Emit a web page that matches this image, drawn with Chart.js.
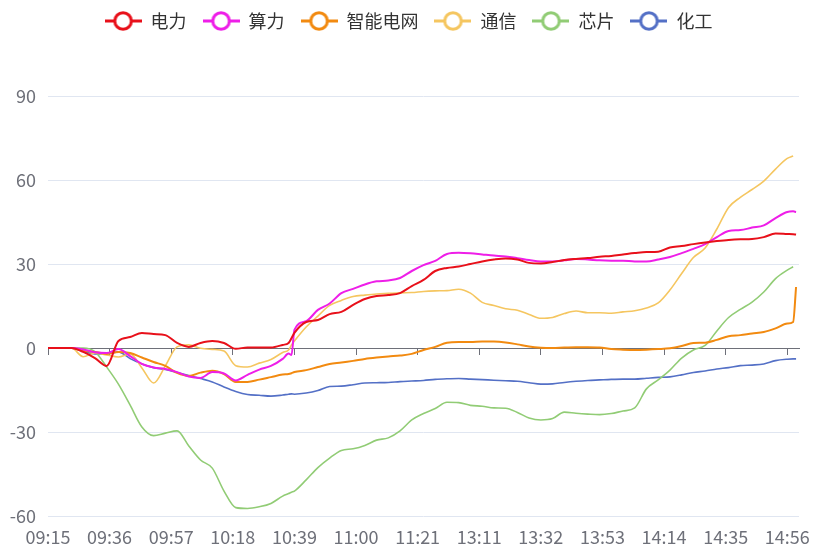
<!DOCTYPE html>
<html><head><meta charset="utf-8">
<script src="https://cdn.jsdelivr.net/npm/chart.js@4.4.1/dist/chart.umd.min.js"></script>
<style>html,body{margin:0;padding:0;background:#fff;}#wrap{width:821px;height:555px;}</style>
</head><body><div id="wrap"><canvas id="c" width="821" height="555"></canvas></div>
<script>
const tickLabels = ['09:15','09:36','09:57','10:18','10:39','11:00','11:21','13:11','13:32','13:53','14:14','14:35','14:56'];
const sampleTimes = ['09:15','09:19','09:23','09:27','09:31','09:35','09:39','09:43','09:47','09:51','09:55','09:59','10:03','10:07','10:11','10:15','10:19','10:23','10:27','10:31','10:35','10:37','10:38','10:39','10:43','10:47','10:51','10:55','10:59','11:03','11:07','11:11','11:15','11:19','11:23','11:27','13:00','13:04','13:08','13:12','13:16','13:20','13:24','13:28','13:32','13:36','13:40','13:44','13:48','13:52','13:56','14:00','14:04','14:08','14:12','14:16','14:20','14:24','14:28','14:32','14:36','14:40','14:44','14:48','14:52','14:56','14:58','14:59'];
const seriesNames = ['电力','算力','智能电网','通信','芯片','化工'];
const power = [0,0,0,-1.4,-3.6,-6.4,2.5,3.9,5.4,5,4.6,1.8,0.4,1.8,2.5,1.8,-0.3,0.2,0.2,0.2,1.1,1.8,3.5,5.4,9.3,10,12.1,12.9,15.4,17.5,18.6,18.9,19.6,22.1,24.3,27.5,28.6,29.1,30,30.9,31.6,32,31.6,30.4,30.2,30.7,31.4,31.8,32.1,32.6,32.9,33.4,33.9,34.3,34.4,35.9,36.4,37.1,37.7,38.2,38.6,38.8,38.9,39.6,40.9,40.7,40.6,40.5];
const computing = [0,0,0,-0.5,-1.5,-1.8,-0.4,-2.9,-5.7,-7,-7.5,-8.6,-10.2,-10.7,-8.6,-9.1,-11.6,-9.6,-7.7,-6.4,-3.9,-2,-2.5,6.5,9.6,13.6,15.9,19.6,21.1,22.7,23.8,24.1,25,27.5,29.6,31.1,33.6,34,33.8,33.4,33,32.7,32.1,31.4,30.9,30.9,31.3,31.8,31.6,31.3,31.2,31.2,30.9,30.9,31.6,32.5,33.9,35.4,37.1,39.6,41.8,42.1,43,43.8,46.4,48.6,48.8,48.6];
const smartGrid = [0,0,0,-1,-1.4,-2.1,-1.4,-1.8,-3.4,-5,-6.4,-8.9,-10,-8.8,-8.1,-9.3,-12.1,-12.1,-11.3,-10.4,-9.5,-9.3,-9,-8.6,-7.9,-6.8,-5.7,-5.2,-4.6,-3.9,-3.4,-3,-2.7,-2.1,-0.7,0.4,1.9,2.1,2.1,2.3,2.3,2,1.3,0.5,0.1,0,0.2,0.3,0.3,0.2,-0.4,-0.6,-0.7,-0.6,-0.4,-0.1,0.7,1.8,1.9,2.9,4.2,4.6,5.2,5.7,7,8.75,9.3,21.8];
const telecom = [0,0,0,-3.1,-1.8,-2.5,-3.2,-2.1,-7.1,-12.5,-6.4,0.4,1.1,-0.1,-0.5,-1.1,-6.3,-6.8,-5.4,-4.1,-1.6,-0.7,1.1,2.5,7.5,11.4,15.2,17,18.4,18.9,19.3,19.5,19.7,19.8,20.2,20.4,20.5,21,19.6,16.3,15.2,14,13.5,12,10.6,10.9,12.3,13.2,12.6,12.6,12.4,12.9,13.3,14.3,16.1,20.7,26.6,32.3,35.7,42.5,50.2,53.8,56.6,59.6,63.9,67.7,68.6,null];
const chips = [0,0,0,0,-1.3,-6.8,-12.9,-20.4,-28.2,-31.3,-30.4,-29.6,-35,-40,-42.9,-51.1,-57,-57.3,-56.7,-55.5,-52.9,-52,-51.5,-51.1,-47.1,-42.7,-39.3,-36.6,-36,-34.8,-32.9,-32.1,-29.6,-25.7,-23.4,-21.6,-19.4,-19.5,-20.5,-20.8,-21.4,-21.5,-23,-25,-25.7,-25.2,-22.9,-23.3,-23.6,-23.8,-23.4,-22.5,-21.4,-14.6,-11.4,-7.9,-3.6,-0.7,0.9,6.1,10.9,13.8,16.4,20,24.8,27.8,29,null];
const chemical = [0,0,0,-1.2,-2.1,-2.1,-1.4,-3.8,-5.7,-7,-7.7,-8.75,-9.8,-10.9,-12.1,-13.9,-15.5,-16.6,-16.9,-17.2,-16.8,-16.5,-16.4,-16.5,-16.1,-15.2,-13.75,-13.6,-13.1,-12.5,-12.4,-12.3,-12,-11.8,-11.6,-11.2,-11,-10.9,-11.1,-11.3,-11.5,-11.7,-11.9,-12.4,-12.9,-12.8,-12.3,-11.9,-11.6,-11.4,-11.2,-11.1,-11.1,-10.8,-10.5,-10.3,-9.6,-8.75,-8.2,-7.5,-7,-6.3,-6.1,-5.7,-4.5,-4,-3.9,-3.9];
const seriesValues = [power, computing, smartGrid, telecom, chips, chemical];
const seriesColors = ['#e8101a','#ee1ee8','#f28a10','#f5c660','#91cc75','#5470c6'];
const seriesWidths = [2, 2, 2, 1.6, 1.6, 1.6];

const FONT = '"Noto Sans CJK SC","Noto Sans",sans-serif';
function timeToIndex(t){
  const p = t.split(':').map(Number); const m = p[0]*60 + p[1];
  return m <= 690 ? m - 555 : 136 + (m - 780);
}
function legendIcon(color){
  const c = document.createElement('canvas'); c.width = 37; c.height = 22;
  const g = c.getContext('2d');
  g.strokeStyle = color; g.lineWidth = 3;
  g.beginPath(); g.moveTo(0, 11); g.lineTo(37, 11); g.stroke();
  g.beginPath(); g.arc(18.5, 11, 8.3, 0, Math.PI*2); g.fillStyle = '#fff'; g.fill(); g.stroke();
  return c;
}
const datasets = seriesNames.map((name, i) => ({
  label: name,
  data: sampleTimes.map((t, j) => ({x: timeToIndex(t), y: seriesValues[i][j]})),
  borderColor: seriesColors[i],
  backgroundColor: seriesColors[i],
  borderWidth: seriesWidths[i],
  pointRadius: 0, pointHoverRadius: 0,
  pointStyle: legendIcon(seriesColors[i]),
  fill: false,
  cubicInterpolationMode: 'monotone',
  spanGaps: false
}));
const keepSteps = axis => { axis.ticks = axis.ticks.filter(t => t.value % 21 === 0); };
const legendFix = {
  id: 'legendFix',
  beforeInit(chart){
    const lg = chart.legend; const fit = lg.fit.bind(lg);
    lg.fit = function(){ fit(); this.height = 96; };
  },
  afterLayout(chart){
    const lg = chart.legend;
    lg.top -= 4; lg.bottom -= 4; lg.left += 9; lg.right += 9;
  }
};
new Chart(document.getElementById('c'), {
  type: 'line',
  data: { datasets },
  plugins: [legendFix],
  options: {
    responsive: false, animation: false, devicePixelRatio: 1,
    layout: { padding: { left: 0, right: 22, top: 0, bottom: 0 } },
    plugins: {
      tooltip: { enabled: false },
      legend: {
        position: 'top',
        labels: { usePointStyle: true, pointStyleWidth: 37, padding: 16, color: '#333', font: { family: FONT, size: 18 } }
      }
    },
    scales: {
      x: {
        type: 'linear', min: 0, max: 256,
        ticks: { stepSize: 21, includeBounds: false, autoSkip: false, maxRotation: 0, padding: 10,
          color: '#6E7079', font: { family: FONT, size: 18 },
          callback: v => tickLabels[Math.round(v / 21)] },
        afterBuildTicks: keepSteps,
        afterFit: s => { s.height = 39; },
        grid: { display: false, drawTicks: false },
        border: { display: false }
      },
      x2: {
        type: 'linear', min: 0, max: 256, position: { y: 0 },
        ticks: { display: false, stepSize: 21, includeBounds: false },
        afterBuildTicks: keepSteps,
        grid: { drawOnChartArea: false, drawTicks: true, tickLength: 6, tickColor: '#6E7079', tickWidth: 1 },
        border: { display: true, color: '#6E7079', width: 1 }
      },
      y: {
        min: -60, max: 90,
        ticks: { stepSize: 30, padding: 12, color: '#6E7079', font: { family: FONT, size: 18 } },
        afterFit: s => { s.width = 48; },
        grid: { color: '#E0E6F1', drawTicks: false },
        border: { display: false }
      }
    }
  }
});
</script></body></html>
